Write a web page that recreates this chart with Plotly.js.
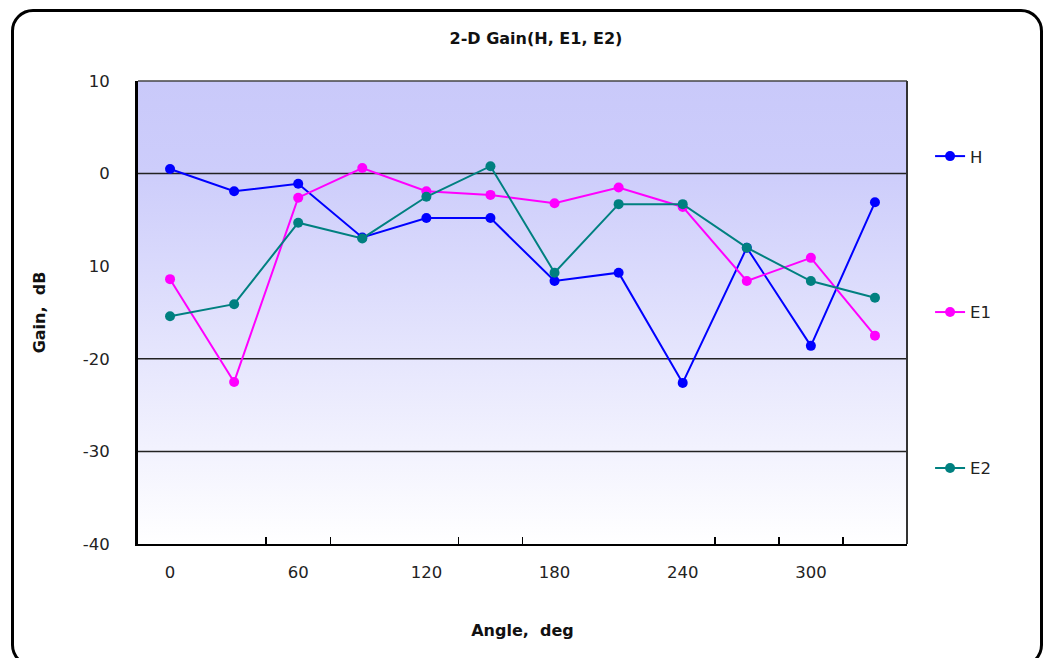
<!DOCTYPE html>
<html>
<head>
<meta charset="utf-8">
<script src="https://cdn.plot.ly/plotly-3.0.1.min.js"></script>
<style>
  html, body { margin: 0; padding: 0; background: #fff; }
  #chart { position: absolute; left: 0; top: 0; width: 1044px; height: 658px; }
  #frame { position: absolute; left: 11px; top: 9px; width: 1026px; height: 652px;
           border: 3px solid #000; border-radius: 22px; pointer-events: none; }
</style>
</head>
<body>
<div id="chart"></div>
<div id="frame"></div>
<script>
const angles = [0, 30, 60, 90, 120, 150, 180, 210, 240, 270, 300, 330];
const gainH  = [0.5, -1.9, -1.1, -6.9, -4.8, -4.8, -11.6, -10.7, -22.6, -8.0, -18.6, -3.1];
const gainE1 = [-11.4, -22.5, -2.6, 0.6, -1.9, -2.3, -3.2, -1.5, -3.6, -11.6, -9.1, -17.5];
const gainE2 = [-15.4, -14.1, -5.3, -7.0, -2.5, 0.8, -10.7, -3.3, -3.3, -8.0, -11.6, -13.4];
const xTickVals = [0, 60, 120, 180, 240, 300];
const xTickText = ['0', '60', '120', '180', '240', '300'];
const xTickMarks = [45, 75, 135, 165, 255, 285, 315];
const yTickVals = [10, 0, -10, -20, -30, -40];
const yTickText = ['10', '0', '10', '-20', '-30', '-40'];
const gridVals = [0, -20, -30];

const FONT = 'DejaVu Sans, Liberation Sans, Arial, sans-serif';

function series(name, y, color) {
  return {
    type: 'scatter', mode: 'lines+markers', name: name, x: angles, y: y,
    legendgroup: name,
    line: { color: color, width: 2 },
    marker: { color: color, size: 10, symbol: 'circle' }
  };
}
const data = [
  series('H', gainH, '#0000FF'),
  series('E1', gainE1, '#FF00FF'),
  series('E2', gainE2, '#008080')
];

const gradSvg = '<svg xmlns="http://www.w3.org/2000/svg" width="100" height="100" preserveAspectRatio="none">' +
  '<defs><linearGradient id="g" x1="0" y1="0" x2="0" y2="1">' +
  '<stop offset="0" stop-color="#C9C9FA"/><stop offset="0.2" stop-color="#CDCDFB"/>' +
  '<stop offset="1" stop-color="#FFFFFF"/></linearGradient></defs>' +
  '<rect width="100" height="100" fill="url(#g)"/></svg>';

const shapes = gridVals.map(v => ({
  type: 'line', xref: 'paper', yref: 'y', x0: 0, x1: 1, y0: v, y1: v,
  line: { color: '#222', width: 1.5 }, layer: 'below'
}));
shapes.push({ type: 'line', xref: 'paper', yref: 'paper', x0: 0, x1: 1, y0: 1, y1: 1,
  line: { color: '#444', width: 1.5 }, layer: 'above' });
shapes.push({ type: 'line', xref: 'paper', yref: 'paper', x0: 1, x1: 1, y0: 0, y1: 1,
  line: { color: '#333', width: 2 }, layer: 'above' });

const layout = {
  width: 1044, height: 658,
  margin: { l: 138, r: 137, t: 81, b: 114 },
  paper_bgcolor: 'rgba(0,0,0,0)',
  plot_bgcolor: '#FFFFFF',
  font: { family: FONT, size: 16, color: '#222' },
  title: { text: '<b>2-D Gain(H, E1, E2)</b>', x: 536 / 1044, xanchor: 'center',
           y: 1 - 38 / 658, yanchor: 'middle', font: { family: FONT, size: 16, color: '#111' } },
  xaxis: {
    range: [-15, 345], tickmode: 'array', tickvals: xTickVals, ticktext: xTickText,
    ticks: '', showgrid: false, zeroline: false,
    showline: true, linecolor: '#000', linewidth: 2,
    ticklabelstandoff: 12,
    tickfont: { family: FONT, size: 16.5, color: '#222' },
    minor: { tickmode: 'array', tickvals: xTickMarks, ticks: 'inside', ticklen: 7,
             tickwidth: 1.5, tickcolor: '#000', showgrid: false },
    title: { text: '<b>Angle,  deg</b>', standoff: 44, font: { family: FONT, size: 16, color: '#111' } },
    fixedrange: true
  },
  yaxis: {
    range: [-40, 10], tickmode: 'array', tickvals: yTickVals, ticktext: yTickText,
    ticks: '', showgrid: false, zeroline: false,
    showline: true, linecolor: '#000', linewidth: 3,
    ticklabelstandoff: 22,
    tickfont: { family: FONT, size: 16.5, color: '#222' },
    title: { text: '<b>Gain,  dB</b>', standoff: 34, font: { family: FONT, size: 16, color: '#111' } },
    fixedrange: true
  },
  showlegend: true,
  legend: {
    x: 1.03, xanchor: 'left', y: 0.875, yanchor: 'top',
    bgcolor: 'rgba(0,0,0,0)', borderwidth: 0,
    tracegroupgap: 131.5, traceorder: 'grouped',
    font: { family: FONT, size: 16.5, color: '#222' }
  },
  images: [{
    source: 'data:image/svg+xml;charset=utf-8,' + encodeURIComponent(gradSvg),
    xref: 'paper', yref: 'paper', x: 0, y: 1, sizex: 1, sizey: 1,
    xanchor: 'left', yanchor: 'top', sizing: 'stretch', layer: 'below'
  }],
  shapes: shapes
};

Plotly.newPlot('chart', data, layout, { displayModeBar: false, staticPlot: true });
</script>
</body>
</html>
